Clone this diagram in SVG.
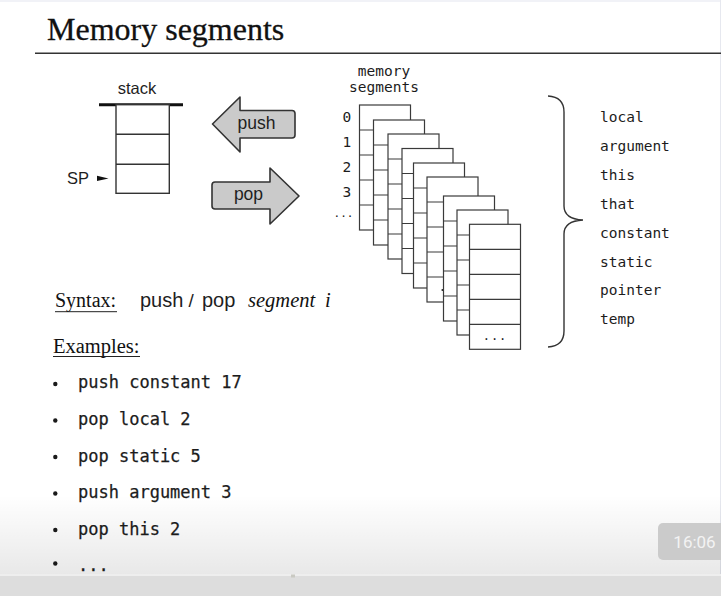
<svg xmlns="http://www.w3.org/2000/svg" xmlns:xlink="http://www.w3.org/1999/xlink" width="721" height="596" viewBox="0 0 721 596">
  <defs>
    <style>
      .serif { font-family: "Liberation Serif", "Times New Roman", serif; fill: #111; }
      .sans { font-family: "Liberation Sans", Arial, sans-serif; fill: #1e1e1e; }
      .mono { font-family: "DejaVu Sans Mono", "Liberation Mono", monospace; fill: #1c1c1c; }
      .cell { fill: #fff; stroke: #3a3a3a; stroke-width: 1.2; }
      .rowline { stroke: #3a3a3a; stroke-width: 1.2; }
      .block { fill: #cacaca; stroke: #333; stroke-width: 1.6; stroke-linejoin: round; }
      .ink { stroke: #333; fill: none; }
      .bullet { fill: #1a1a1a; }
    </style>
    <!-- one memory segment: five stacked cells -->
    <g id="card">
      <rect class="cell" x="0" y="0" width="51" height="125"/>
      <line class="rowline" x1="0" y1="25" x2="51" y2="25"/>
      <line class="rowline" x1="0" y1="50" x2="51" y2="50"/>
      <line class="rowline" x1="0" y1="75" x2="51" y2="75"/>
      <line class="rowline" x1="0" y1="100" x2="51" y2="100"/>
    </g>
    <linearGradient id="shade" x1="0" y1="0" x2="0" y2="1">
      <stop offset="0" stop-color="#000" stop-opacity="0"/>
      <stop offset="1" stop-color="#000" stop-opacity="0.09"/>
    </linearGradient>
  </defs>

  <!-- page -->
  <rect x="0" y="0" width="721" height="596" fill="#fff"/>
  <rect x="0" y="0" width="721" height="2" fill="#f1f2f7"/>
  <line x1="720.5" y1="0" x2="720.5" y2="575" stroke="#e6e8ef" stroke-width="1"/>

  <!-- title -->
  <g id="title">
    <text class="serif" x="47" y="40" font-size="32" stroke="#111" stroke-width="0.3">Memory segments</text>
    <line x1="35" y1="53.3" x2="721" y2="53.3" stroke="#333" stroke-width="1.6"/>
  </g>

  <!-- stack -->
  <g id="stack">
    <text class="sans" x="137" y="94" font-size="16.5" text-anchor="middle">stack</text>
    <line x1="99" y1="104.7" x2="183" y2="104.7" stroke="#111" stroke-width="3"/>
    <rect x="116" y="104.7" width="53.3" height="88.6" fill="#fff" stroke="#333" stroke-width="1.4"/>
    <line x1="116" y1="134.2" x2="169.3" y2="134.2" stroke="#333" stroke-width="1.4"/>
    <line x1="116" y1="164.2" x2="169.3" y2="164.2" stroke="#333" stroke-width="1.4"/>
  </g>

  <g id="sp">
    <text class="sans" x="67" y="183.5" font-size="16.5">SP</text>
    <polygon points="97,175.8 108.5,178.4 97,181" fill="#111"/>
  </g>

  <!-- push / pop block arrows -->
  <g id="push-arrow">
    <path class="block" d="M212.5,124 L240,97 L240,110.5 L292,110.5 Q295,110.5 295,113.5 L295,135 Q295,138 292,138 L240,138 L240,152 Z"/>
    <text class="sans" x="256.5" y="128.5" font-size="17.5" text-anchor="middle">push</text>
  </g>
  <g id="pop-arrow">
    <path class="block" d="M299,196 L270,168 L270,182 L215,182 Q212,182 212,185 L212,206 Q212,209 215,209 L270,209 L270,224 Z"/>
    <text class="sans" x="248.5" y="200" font-size="17.5" text-anchor="middle">pop</text>
  </g>

  <!-- memory segments: overlapping cards -->
  <g id="memory-segments">
    <text class="mono" x="384" y="75.5" font-size="14.5" text-anchor="middle">memory</text>
    <text class="mono" x="384" y="92" font-size="14.5" text-anchor="middle">segments</text>
    <text class="mono" x="342.5" y="121.5" font-size="14.5">0</text>
    <text class="mono" x="342.5" y="146.5" font-size="14.5">1</text>
    <text class="mono" x="342.5" y="171.5" font-size="14.5">2</text>
    <text class="mono" x="342.5" y="196.5" font-size="14.5">3</text>
    <text class="mono" x="343.5" y="217" font-size="11" text-anchor="middle" fill="#555">...</text>
    <use xlink:href="#card" x="359.5" y="105"/>
    <use xlink:href="#card" x="373.5" y="120"/>
    <use xlink:href="#card" x="388" y="134"/>
    <use xlink:href="#card" x="402" y="148.5"/>
    <use xlink:href="#card" x="413.5" y="163"/>
    <use xlink:href="#card" x="427" y="177"/>
    <circle cx="442.5" cy="290" r="1.1" fill="#222"/>
    <use xlink:href="#card" x="443.5" y="196"/>
    <use xlink:href="#card" x="457" y="210"/>
    <use xlink:href="#card" x="469.5" y="224.3"/>
    <text class="mono" x="495" y="340" font-size="12" text-anchor="middle" letter-spacing="1">...</text>
  </g>

  <!-- brace and segment names -->
  <g id="segment-names">
    <path class="ink" stroke-width="1.4" d="M548,96 Q564,97 564,112 L564,206 Q564,219 583,220 Q564,221 564,234 L564,331 Q564,346 548,347"/>
    <text class="mono" x="600" y="122" font-size="14.5">local</text>
    <text class="mono" x="600" y="151" font-size="14.5">argument</text>
    <text class="mono" x="600" y="180" font-size="14.5">this</text>
    <text class="mono" x="600" y="209" font-size="14.5">that</text>
    <text class="mono" x="600" y="237.5" font-size="14.5">constant</text>
    <text class="mono" x="600" y="266.5" font-size="14.5">static</text>
    <text class="mono" x="600" y="295" font-size="14.5">pointer</text>
    <text class="mono" x="600" y="324" font-size="14.5">temp</text>
  </g>

  <!-- syntax line -->
  <g id="syntax">
    <text class="serif" x="55" y="307" font-size="20">Syntax:</text>
    <line x1="55" y1="311.7" x2="117" y2="311.7" stroke="#222" stroke-width="1"/>
    <text class="sans" x="140" y="307" font-size="20">push</text>
    <text class="sans" x="188.5" y="307" font-size="19" fill="#777">/</text>
    <text class="sans" x="202" y="307" font-size="20">pop</text>
    <text class="serif" x="248" y="307" font-size="20.5" font-style="italic" fill="#333">segment</text>
    <text class="serif" x="325" y="307" font-size="20.5" font-style="italic" fill="#333">i</text>
  </g>

  <!-- examples -->
  <g id="examples">
    <text class="serif" x="53" y="352.5" font-size="20.5">Examples:</text>
    <line x1="53" y1="356.5" x2="140" y2="356.5" stroke="#222" stroke-width="1"/>
    <circle class="bullet" cx="55.3" cy="384" r="2.2"/>
    <circle class="bullet" cx="55.3" cy="420.5" r="2.2"/>
    <circle class="bullet" cx="55.3" cy="457" r="2.2"/>
    <circle class="bullet" cx="55.3" cy="493.5" r="2.2"/>
    <circle class="bullet" cx="55.3" cy="530" r="2.2"/>
    <circle class="bullet" cx="55.3" cy="563.5" r="2.2"/>
    <g class="mono" font-size="17" stroke="#1c1c1c" stroke-width="0.25">
      <text x="78" y="388">push constant 17</text>
      <text x="78" y="425">pop local 2</text>
      <text x="78" y="461.5">pop static 5</text>
      <text x="78" y="498">push argument 3</text>
      <text x="78" y="535">pop this 2</text>
      <text x="78" y="571">...</text>
    </g>
  </g>

  <!-- player overlay -->
  <g id="player">
    <rect x="0" y="495" width="721" height="80" fill="url(#shade)"/>
    <rect x="0" y="574" width="721" height="2" fill="#eeeeee"/>
    <rect x="0" y="576" width="721" height="20" fill="#dddddd"/>
    <rect x="291" y="574.5" width="4" height="3" fill="#c9c9c2"/>
    <rect x="658" y="523" width="70" height="37" rx="5" fill="#cbcbcb"/>
    <text x="694.5" y="548" font-family="Roboto, 'Open Sans', sans-serif" font-size="17" fill="#f3f3f3" text-anchor="middle">16:06</text>
  </g>
</svg>
